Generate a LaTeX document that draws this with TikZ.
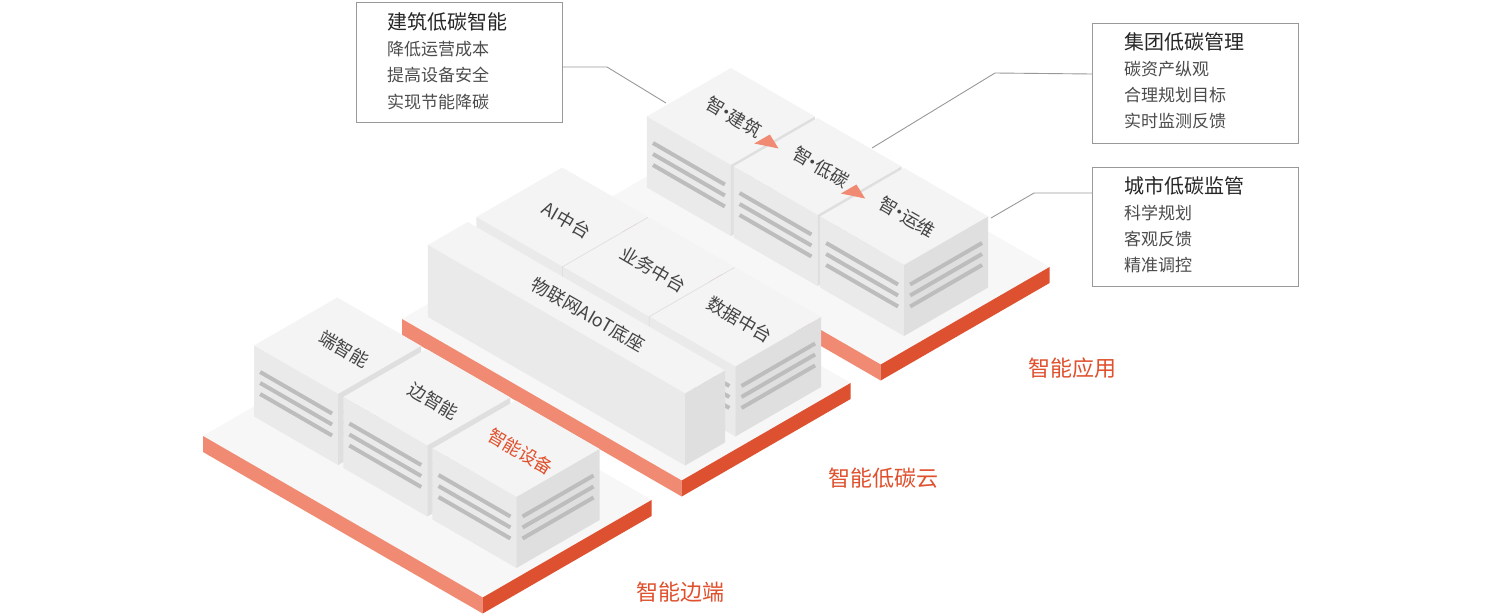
\documentclass[tikz,border=0pt]{standalone}
\usepackage{fontspec}
\newfontfamily\cjk{Noto Sans CJK SC}
\definecolor{ptop}{HTML}{F7F7F7}
\definecolor{pleft}{HTML}{F08A72}
\definecolor{pright}{HTML}{DD5030}
\definecolor{btop}{HTML}{F4F4F4}
\definecolor{bleft}{HTML}{EAEAEA}
\definecolor{bright}{HTML}{DFDFDF}
\definecolor{stripec}{HTML}{BDBDBD}
\definecolor{accent}{HTML}{E0502D}
\definecolor{txt}{HTML}{444444}
\definecolor{linec}{HTML}{999999}
\tikzset{
 isoscope/.style={x={(0.866pt,-0.5pt)},y={(0.866pt,0.5pt)},z={(0pt,1pt)}},
 stripe/.style={draw=stripec,line width=4pt},
 callout/.style={draw=linec,fill=white,line width=0.8pt},
 conn/.style={draw=linec,line width=0.9pt},
 ttl/.style={anchor=west,font=\cjk\fontsize{20}{22}\selectfont,text=black!85,inner sep=0pt},
 itm/.style={anchor=west,font=\cjk\fontsize{17}{19}\selectfont,text=black!70,inner sep=0pt},
 plabel/.style={font=\cjk\fontsize{22}{24}\selectfont,text=accent,inner sep=0pt},
}
\newcommand\md{\kern-0.32em·\kern-0.32em}
\newcommand\platform[3]{%
 \fill[ptop] (0,0,0)--(#1,0,0)--(#1,#2,0)--(0,#2,0)--cycle;
 \fill[pleft] (0,0,-#3)--(#1,0,-#3)--(#1,0,0)--(0,0,0)--cycle;
 \fill[pright] (#1,0,-#3)--(#1,#2,-#3)--(#1,#2,0)--(#1,0,0)--cycle;}
\newcommand\isobox[6]{% u v a b H stripes(1/0)
 \pgfmathsetmacro\ua{#1}\pgfmathsetmacro\ub{#1+#3}%
 \pgfmathsetmacro\va{#2}\pgfmathsetmacro\vb{#2+#4}\pgfmathsetmacro\hh{#5}%
 \fill[btop] (\ua,\va,\hh)--(\ub,\va,\hh)--(\ub,\vb,\hh)--(\ua,\vb,\hh)--cycle;
 \fill[bleft] (\ua,\va,0)--(\ub,\va,0)--(\ub,\va,\hh)--(\ua,\va,\hh)--cycle;
 \fill[bright] (\ub,\va,0)--(\ub,\vb,0)--(\ub,\vb,\hh)--(\ub,\va,\hh)--cycle;
 \ifnum#6=1
 \foreach \k in {23,34,45}{%
  \draw[stripe] ({\ua+7},\va,{\hh-\k})--({\ub-7},\va,{\hh-\k});
  \draw[stripe] (\ub,{\va+7},{\hh-\k})--(\ub,{\vb-7},{\hh-\k});}
 \fi}
\newcommand\toptext[6]{% name u v h text color
 \begin{scope}[shift={(#2,#3,#4)},cm={0.866,-0.5,0.5,0.866,(0,0)}]
 \node[transform shape,font=\cjk\fontsize{18}{20}\selectfont,text=#6,inner sep=0pt] (#1) at (0,0) {#5};
 \end{scope}}
\newcommand\toparrow[4]{% u v h name
 \fill[pleft] ({#1-9},{#2-9},#3)--({#1-9},{#2+9},#3)--({#1+10},#2,#3)--cycle;
 \coordinate (#4) at (#1,#2,#3);}
\begin{document}
\begin{tikzpicture}[x=1pt,y=1pt]
\useasboundingbox (0,0) rectangle (1500,-616);
\fill[white] (0,0) rectangle (1500,-616);
\begin{scope}[shift={(601,-203)},isoscope]
 \platform{323}{195}{16}
 \isobox{11}{42}{97}{97}{71}{1}
 \isobox{111}{42}{97}{97}{71}{1}
 \isobox{211}{42}{97}{97}{71}{1}
 \toptext{t1}{62}{92}{71}{智\md 建筑}{txt}
 \toptext{t2}{162}{92}{71}{智\md 低碳}{txt}
 \toptext{t3}{262}{92}{71}{智\md 运维}{txt}
 \toparrow{109}{86}{71}{a1}
 \toparrow{209}{86}{71}{a2}
\end{scope}
\begin{scope}[shift={(402,-319)},isoscope]
 \platform{323}{195}{16}
 \isobox{11}{75}{99}{99}{70}{0}
 \isobox{111}{75}{99}{99}{70}{0}
 \isobox{211}{75}{99}{99}{70}{1}
 \toptext{m1}{66}{124}{70}{AI中台}{txt}
 \toptext{m2}{166}{124}{70}{业务中台}{txt}
 \toptext{m3}{266}{124}{70}{数据中台}{txt}
 \isobox{13}{17}{297}{46}{72}{0}
 \toptext{m4}{175}{40}{72}{物联网AIoT底座}{txt}
\end{scope}
\begin{scope}[shift={(203,-436)},isoscope]
 \platform{323}{195}{16}
 \isobox{10}{49}{97}{96}{71}{1}
 \isobox{113}{49}{97}{96}{71}{1}
 \isobox{216}{49}{97}{96}{71}{1}
 \toptext{b1}{66}{97}{71}{端智能}{txt}
 \toptext{b2}{169}{97}{71}{边智能}{txt}
 \toptext{b3}{270}{97}{71}{智能设备}{accent}
\end{scope}
\node[plabel] (l1) at (680,-592) {智能边端};
\node[plabel] (l2) at (883,-478) {智能低碳云};
\node[plabel] (l3) at (1072,-368) {智能应用};
\node[callout,minimum width=206,minimum height=120,anchor=north west] (k1) at (356,-2) {};
\node[ttl] at (387,-22) {建筑低碳智能};
\node[itm] at (387,-49) {降低运营成本};
\node[itm] at (387,-75) {提高设备安全};
\node[itm] at (387,-102) {实现节能降碳};
\node[callout,minimum width=206,minimum height=120,anchor=north west] (k2) at (1092,-23) {};
\node[ttl] at (1124,-42) {集团低碳管理};
\node[itm] at (1124,-69) {碳资产纵观};
\node[itm] at (1124,-95) {合理规划目标};
\node[itm] at (1124,-121) {实时监测反馈};
\node[callout,minimum width=206,minimum height=119,anchor=north west] (k3) at (1092,-167) {};
\node[ttl] at (1124,-186) {城市低碳监管};
\node[itm] at (1124,-213) {科学规划};
\node[itm] at (1124,-239) {客观反馈};
\node[itm] at (1124,-265) {精准调控};
\coordinate (e1) at (666,-103);
\coordinate (e2) at (872,-148);
\coordinate (e3) at (991,-218);
\draw[conn] (k1.east |- 0,-67) -- (607,-67) -- (e1);
\draw[conn] (k2.west |- 0,-74) -- (995,-73) -- (e2);
\draw[conn] (k3.west |- 0,-193) -- (1034,-193) -- (e3);
\end{tikzpicture}
\end{document}
